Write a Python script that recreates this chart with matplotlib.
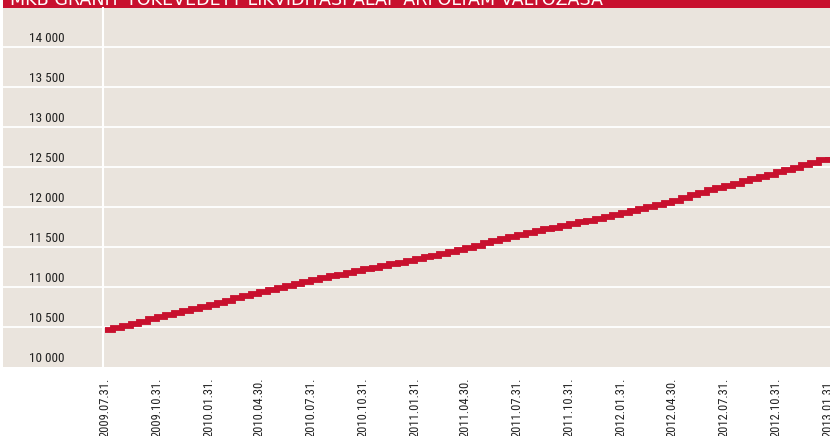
import matplotlib
matplotlib.use("Agg")
import matplotlib.pyplot as plt
from matplotlib.patches import Rectangle
from matplotlib import font_manager
import matplotlib.transforms as mtransforms
import datetime as dt

# ---- data (semi-monthly readings) ----
dates = ["2009-07-31",
         "2009-08-15", "2009-08-31", "2009-09-15", "2009-09-30", "2009-10-15", "2009-10-31",
         "2009-11-15", "2009-11-30", "2009-12-15", "2009-12-31", "2010-01-15", "2010-01-31",
         "2010-02-15", "2010-02-28", "2010-03-15", "2010-03-31", "2010-04-15", "2010-04-30",
         "2010-05-15", "2010-05-31", "2010-06-15", "2010-06-30", "2010-07-15", "2010-07-31",
         "2010-08-15", "2010-08-31", "2010-09-15", "2010-09-30", "2010-10-15", "2010-10-31",
         "2010-11-15", "2010-11-30", "2010-12-15", "2010-12-31", "2011-01-15", "2011-01-31",
         "2011-02-15", "2011-02-28", "2011-03-15", "2011-03-31", "2011-04-15", "2011-04-30",
         "2011-05-15", "2011-05-31", "2011-06-15", "2011-06-30", "2011-07-15", "2011-07-31",
         "2011-08-15", "2011-08-31", "2011-09-15", "2011-09-30", "2011-10-15", "2011-10-31",
         "2011-11-15", "2011-11-30", "2011-12-15", "2011-12-31", "2012-01-15", "2012-01-31",
         "2012-02-15", "2012-02-29", "2012-03-15", "2012-03-31", "2012-04-15", "2012-04-30",
         "2012-05-15", "2012-05-31", "2012-06-15", "2012-06-30", "2012-07-15", "2012-07-31",
         "2012-08-15", "2012-08-31", "2012-09-15", "2012-09-30", "2012-10-15", "2012-10-31",
         "2012-11-15", "2012-11-30", "2012-12-15", "2012-12-31", "2013-01-15", "2013-01-31"]
values = [10462,
          10489, 10516, 10542, 10568, 10594, 10621,
          10646, 10672, 10698, 10724, 10751, 10779,
          10804, 10830, 10858, 10887, 10912, 10938,
          10963, 10989, 11013, 11037, 11061, 11085,
          11108, 11132, 11154, 11176, 11198, 11220,
          11241, 11262, 11284, 11306, 11328, 11350,
          11370, 11389, 11413, 11438, 11464, 11491,
          11518, 11546, 11571, 11597, 11623, 11649,
          11674, 11699, 11720, 11741, 11763, 11785,
          11807, 11829, 11853, 11877, 11901, 11925,
          11950, 11974, 12001, 12028, 12054, 12081,
          12113, 12146, 12177, 12208, 12236, 12265,
          12293, 12322, 12350, 12378, 12406, 12434,
          12461, 12489, 12521, 12554, 12589, 12625]
xtick_dates = ["2009-07-31", "2009-10-31", "2010-01-31", "2010-04-30", "2010-07-31",
               "2010-10-31", "2011-01-31", "2011-04-30", "2011-07-31", "2011-10-31",
               "2012-01-31", "2012-04-30", "2012-07-31", "2012-10-31", "2013-01-31"]
yticks = [10000, 10500, 11000, 11500, 12000, 12500, 13000, 13500, 14000]
ytick_labels = ["10 000", "10 500", "11 000", "11 500", "12 000", "12 500", "13 000", "13 500", "14 000"]
title = "MKB GRÁNIT TŐKEVÉDETT LIKVIDITÁSI ALAP ÁRFOLYAM VÁLTOZÁSA"

# ---- style ----
avail = {f.name for f in font_manager.fontManager.ttflist}
narrow = "DejaVu Sans"
for cand in ["Liberation Sans Narrow", "Roboto Condensed", "Open Sans Condensed", "Noto Sans Condensed"]:
    if cand in avail:
        narrow = cand
        break
RED = "#C8102E"
BG = "#EAE4DD"

W, H = 830, 436
fig = plt.figure(figsize=(W / 100, H / 100), dpi=100)
fig.patch.set_facecolor("white")

fig.patches.append(Rectangle((3 / W, 1 - 367 / H), 827 / W, 359 / H, transform=fig.transFigure,
                             facecolor=BG, edgecolor="none", zorder=-5))
fig.patches.append(Rectangle((3 / W, 1 - 8 / H), 827 / W, 8 / H, transform=fig.transFigure,
                             facecolor=RED, edgecolor="none", zorder=-5))
fig.text(10 / W, 1 - 5 / H, title, color="white", fontsize=12.6, va="baseline", ha="left",
         family="DejaVu Sans", zorder=5)

ax = fig.add_axes([103 / W, 1 - 367 / H, 727 / W, 359 / H])
ax.set_facecolor("none")
ax.set_zorder(2)

x = [dt.datetime.strptime(d, "%Y-%m-%d") for d in dates]
ax.step(x, values, where="post", color=RED, lw=4.2, solid_joinstyle="miter", solid_capstyle="butt",
        zorder=3)

ax.set_xlim(dt.datetime(2009, 7, 27, 12), dt.datetime(2013, 2, 3, 14))
ax.set_ylim(10000, 14487.5)

for s in ["top", "right", "bottom"]:
    ax.spines[s].set_visible(False)
ax.spines["left"].set_color("white")
ax.spines["left"].set_linewidth(1.5)

for v in yticks[1:]:
    ax.plot([-100 / 727, 1], [v, v], transform=ax.get_yaxis_transform(), color="white",
            lw=1.3, clip_on=False, zorder=1)

ax.set_yticks(yticks)
ax.set_yticklabels(ytick_labels, fontsize=9.5, family=narrow, fontstretch="condensed", color="#222222")
ax.tick_params(axis="y", length=0, pad=27.5)
off = mtransforms.ScaledTranslation(0, 10 / 100, fig.dpi_scale_trans)
for lab in ax.get_yticklabels():
    lab.set_transform(lab.get_transform() + off)

xt = [dt.datetime.strptime(d, "%Y-%m-%d") for d in xtick_dates]
ax.set_xticks(xt)
ax.set_xticklabels([d.strftime("%Y.%m.%d.") for d in xt], rotation=90, fontsize=9,
                   family=narrow, fontstretch="condensed", color="#222222", va="top", ha="center")
ax.tick_params(axis="x", length=0, pad=7.5)

fig.savefig("out.png", dpi=100)
